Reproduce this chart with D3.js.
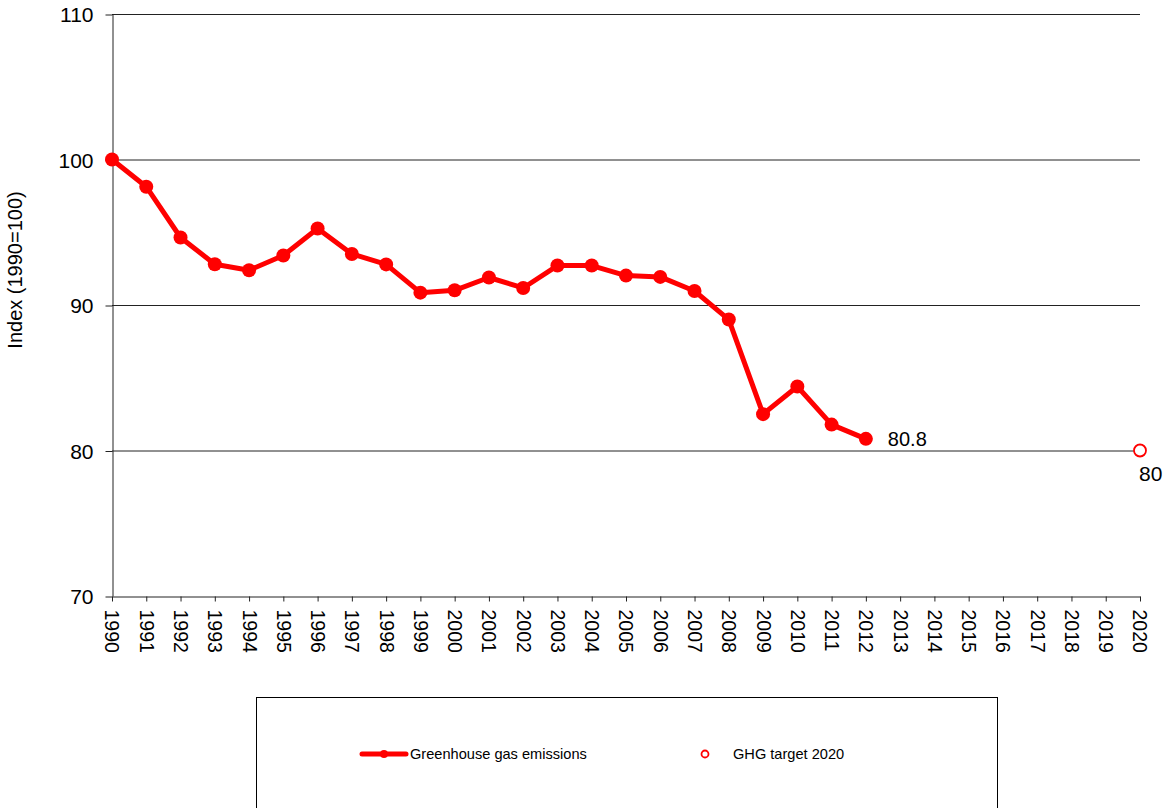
<!DOCTYPE html>
<html>
<head>
<meta charset="utf-8">
<script src="https://cdn.jsdelivr.net/npm/d3@7"></script>
<style>
  html, body { margin: 0; padding: 0; background: #fff; }
  svg { display: block; font-family: "Liberation Sans", Arial, sans-serif; }
</style>
</head>
<body>
<svg id="chart" width="1165" height="808"></svg>
<script>
// Years on the x axis (1990–2020)
const years = d3.range(1990, 2021);
// Greenhouse gas emissions index, 1990 = 100
const emissionYears = d3.range(1990, 2013);
const emissionValues = [100, 98.13, 94.64, 92.8, 92.39, 93.4, 95.26, 93.51, 92.79,
  90.85, 91.01, 91.89, 91.17, 92.71, 92.71, 92.02, 91.93, 90.96, 89.0,
  82.5, 84.4, 81.78, 80.8];
// 2020 target
const targetYear = [2020];
const targetValue = [80];
const yTicks = [70, 80, 90, 100, 110];
const seriesNames = ["Greenhouse gas emissions", "GHG target 2020"];

const svg = d3.select("#chart");
const plotLeft = 112, plotRight = 1140, plotTop = 14, plotBottom = 596;
const FONT = "Liberation Sans, Arial, sans-serif";

const x = d3.scalePoint().domain(years).range([plotLeft, plotRight]);
const y = d3.scaleLinear().domain([70, 110]).range([plotBottom, plotTop]);

// horizontal gridlines
svg.append("g").selectAll("line").data(yTicks.slice(1)).join("line")
  .attr("x1", plotLeft).attr("x2", plotRight)
  .attr("y1", d => y(d) + 0.5).attr("y2", d => y(d) + 0.5)
  .attr("stroke", "#222").attr("stroke-width", 1);

// y axis
const yAxis = svg.append("g").attr("transform", `translate(${plotLeft + 0.5},0)`)
  .call(d3.axisLeft(y).tickValues(yTicks).tickSize(7).tickSizeOuter(0).tickPadding(12));
yAxis.select(".domain").attr("stroke", "#222");
yAxis.selectAll(".tick line").attr("stroke", "#222").attr("transform", "translate(0,0.5)");
yAxis.selectAll("text").attr("font-size", 21).attr("fill", "#000")
  .attr("font-family", FONT).attr("dy", "0.36em");

// x axis
const xAxis = svg.append("g").attr("transform", `translate(0,${plotBottom + 0.5})`)
  .call(d3.axisBottom(x).tickSize(5).tickSizeOuter(0).tickFormat(d3.format("d")));
xAxis.select(".domain").attr("stroke", "#222");
xAxis.selectAll(".tick line").attr("stroke", "#222");
xAxis.selectAll("text")
  .attr("font-size", 19.5).attr("fill", "#000")
  .attr("font-family", FONT)
  .attr("text-anchor", "start")
  .attr("dy", "0.36em")
  .attr("y", 0)
  .attr("transform", "translate(0,13) rotate(90)");

// y axis title
svg.append("text")
  .attr("transform", `translate(22,270) rotate(-90)`)
  .attr("text-anchor", "middle")
  .attr("font-size", 20)
  .text("Index (1990=100)");

// emissions line
const pts = emissionYears.map((yr, i) => [yr, emissionValues[i]]);
svg.append("path").datum(pts)
  .attr("fill", "none").attr("stroke", "#ff0000").attr("stroke-width", 5)
  .attr("stroke-linejoin", "round")
  .attr("d", d3.line().x(d => x(d[0])).y(d => y(d[1])));
svg.append("g").selectAll("circle").data(pts).join("circle")
  .attr("cx", d => x(d[0])).attr("cy", d => y(d[1])).attr("r", 7)
  .attr("fill", "#ff0000");

// last value label
const last = pts[pts.length - 1];
svg.append("text")
  .attr("x", x(last[0]) + 22).attr("y", y(last[1]) + 7)
  .attr("font-size", 20).text(d3.format(".1f")(last[1]));

// target marker
svg.append("g").selectAll("circle").data(targetYear).join("circle")
  .attr("cx", d => x(d)).attr("cy", (d, i) => y(targetValue[i])).attr("r", 6)
  .attr("fill", "#fff").attr("stroke", "#ff0000").attr("stroke-width", 1.8);
svg.append("text")
  .attr("x", x(targetYear[0]) - 1).attr("y", y(targetValue[0]) + 30)
  .attr("font-size", 21).text(targetValue[0]);

// legend
const lg = svg.append("g");
lg.append("rect").attr("x", 256.5).attr("y", 697.5).attr("width", 741).attr("height", 130)
  .attr("fill", "#fff").attr("stroke", "#000").attr("stroke-width", 1);
lg.append("line").attr("x1", 362).attr("x2", 406).attr("y1", 754).attr("y2", 754)
  .attr("stroke", "#ff0000").attr("stroke-width", 5).attr("stroke-linecap", "round");
lg.append("circle").attr("cx", 384).attr("cy", 754).attr("r", 4).attr("fill", "#ff0000");
lg.append("text").attr("x", 410).attr("y", 759).attr("font-size", 14.6).text(seriesNames[0]);
lg.append("circle").attr("cx", 705).attr("cy", 754).attr("r", 3.5)
  .attr("fill", "#fff").attr("stroke", "#ff0000").attr("stroke-width", 1.8);
lg.append("text").attr("x", 733).attr("y", 759).attr("font-size", 14.6).text(seriesNames[1]);
</script>
</body>
</html>
